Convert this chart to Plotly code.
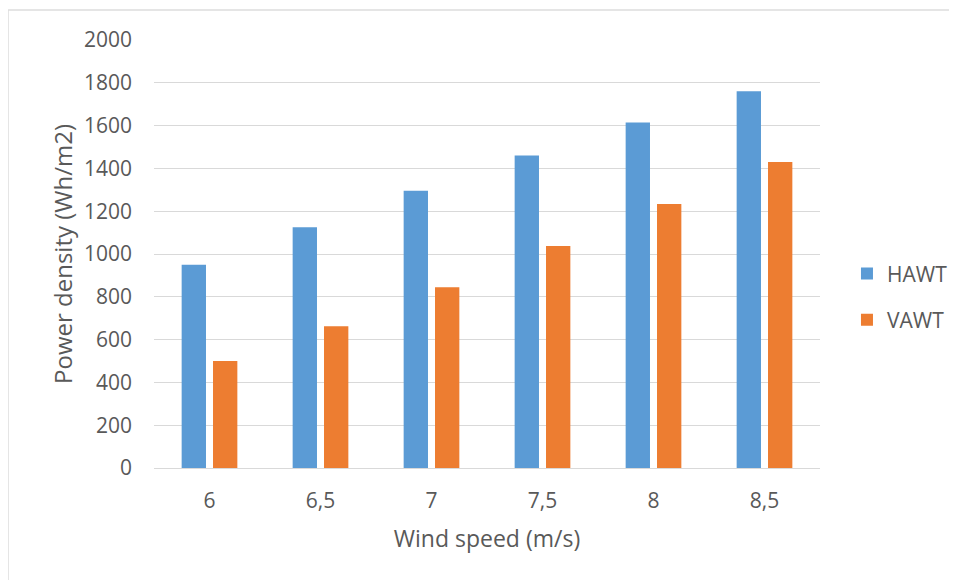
import plotly.graph_objects as go

wind_speed = ["6", "6,5", "7", "7,5", "8", "8,5"]
hawt = [950, 1125, 1295, 1460, 1615, 1760]
vawt = [500, 662, 845, 1037, 1234, 1430]
y_ticks = [0, 200, 400, 600, 800, 1000, 1200, 1400, 1600, 1800, 2000]

font_family = "Open Sans, Liberation Sans, sans-serif"
text_color = "#595959"

fig = go.Figure()
fig.add_trace(go.Bar(x=wind_speed, y=hawt, name="HAWT", marker_color="#5B9BD5",
                     marker_line_width=0, legendgroup="a"))
fig.add_trace(go.Bar(x=wind_speed, y=vawt, name="VAWT", marker_color="#ED7D31",
                     marker_line_width=0, legendgroup="b"))

border = dict(color="#DDDDDD", width=1.5)

fig.update_layout(
    width=957, height=580,
    margin=dict(l=146, r=145, t=32, b=120),
    paper_bgcolor="white", plot_bgcolor="white",
    barmode="group", bargap=0.435, bargroupgap=0.224,
    font=dict(family=font_family, color=text_color, size=21),
    legend=dict(x=1.0405, y=0.40, xanchor="left", yanchor="middle",
                bgcolor="rgba(0,0,0,0)",
                font=dict(size=21, color=text_color), tracegroupgap=16,
                itemwidth=30),
    xaxis=dict(
        title=dict(text="Wind speed (m/s)", font=dict(size=23, color=text_color), standoff=17),
        tickfont=dict(size=21, color=text_color),
        showgrid=False, showline=False, ticks="", ticklabelstandoff=18,
    ),
    yaxis=dict(
        title=dict(text="Power density (Wh/m2)", font=dict(size=24, color=text_color), standoff=4),
        range=[0, 2000], tickvals=y_ticks, tickfont=dict(size=21, color=text_color),
        showgrid=True, gridcolor="#D9D9D9", gridwidth=1.3,
        zeroline=True, zerolinecolor="#D9D9D9", zerolinewidth=1.3,
        ticks="", ticklabelstandoff=21,
    ),
    shapes=[
        dict(type="line", xref="paper", yref="paper",
             x0=-0.2192, x1=1.21, y0=1.0701, y1=1.0701, line=border, layer="below"),
        dict(type="line", xref="paper", yref="paper",
             x0=-0.2192, x1=-0.2192, y0=1.0701, y1=-0.27, line=border, layer="below"),
    ],
)

fig.write_html("out.html")
